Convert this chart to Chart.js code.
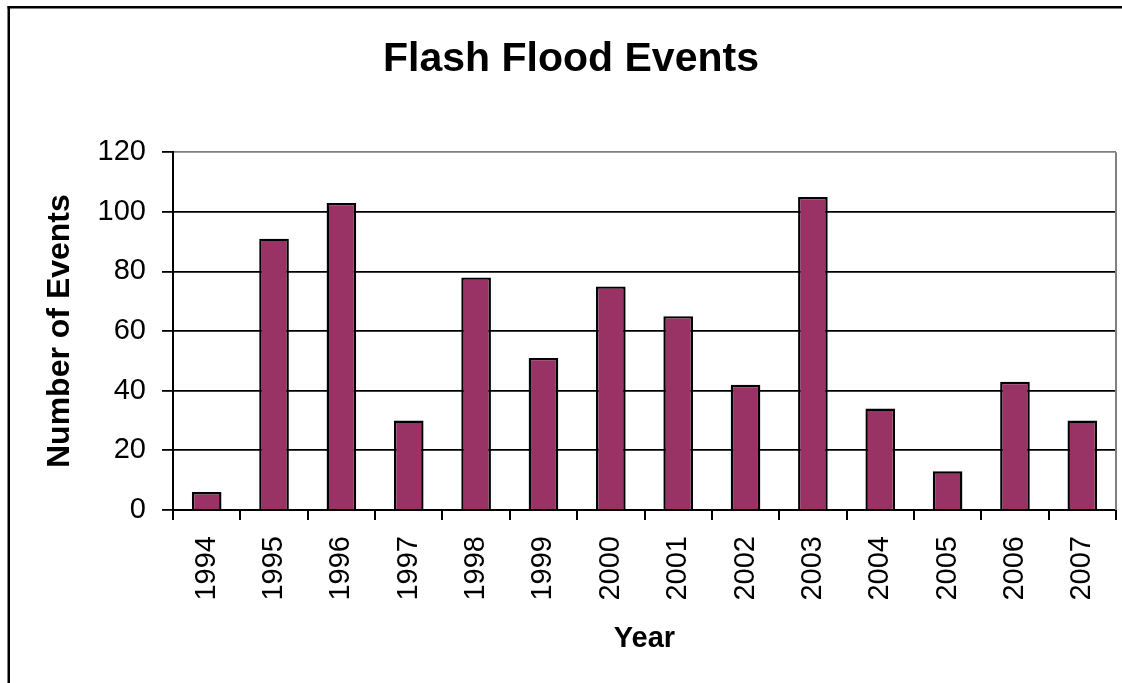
<!DOCTYPE html>
<html>
<head>
<meta charset="utf-8">
<title>Flash Flood Events</title>
<script src="https://cdn.jsdelivr.net/npm/chart.js@4.4.1/dist/chart.umd.min.js"></script>
<style>
  html, body { margin: 0; padding: 0; background: #ffffff; }
  #wrap { width: 1122px; height: 683px; position: relative; }
</style>
</head>
<body>
<div id="wrap"><canvas id="chart" width="1122" height="683"></canvas></div>
<script>
// Yearly counts of flash flood events
const years = ['1994', '1995', '1996', '1997', '1998', '1999', '2000',
               '2001', '2002', '2003', '2004', '2005', '2006', '2007'];
const events = [6, 91, 103, 30, 78, 51, 75, 65, 42, 105, 34, 13, 43, 30];
const yTickValues = [0, 20, 40, 60, 80, 100, 120];

const FONT = "'Liberation Sans', Arial, Helvetica, sans-serif";

// White page with the black outer frame, plus the grey right edge of the plot box
const framePlugin = {
  id: 'frame',
  beforeDraw(chart) {
    const ctx = chart.ctx;
    ctx.save();
    ctx.fillStyle = '#ffffff';
    ctx.fillRect(0, 0, chart.width, chart.height);
    ctx.fillStyle = '#000000';
    ctx.fillRect(7.5, 6, chart.width, 2.5);
    ctx.fillRect(7.5, 6, 2.5, chart.height);
    ctx.restore();
  },
  afterDraw(chart) {
    const a = chart.chartArea;
    const ctx = chart.ctx;
    ctx.save();
    ctx.strokeStyle = '#808080';
    ctx.lineWidth = 2;
    ctx.beginPath();
    ctx.moveTo(a.right, a.top);
    ctx.lineTo(a.right, a.bottom);
    ctx.stroke();
    ctx.restore();
  }
};

new Chart(document.getElementById('chart'), {
  type: 'bar',
  data: {
    labels: years,
    datasets: [{
      data: events,
      backgroundColor: '#993366',
      borderColor: '#000000',
      borderWidth: 2.4,
      borderSkipped: 'bottom',
      barPercentage: 0.44,
      categoryPercentage: 1.0
    }]
  },
  options: {
    responsive: false,
    devicePixelRatio: 1,
    animation: false,
    events: [],
    layout: { padding: { left: 26, right: 6, top: 0, bottom: 0 } },
    plugins: {
      legend: { display: false },
      tooltip: { enabled: false },
      title: {
        display: true,
        text: 'Flash Flood Events',
        color: '#000000',
        font: { family: FONT, size: 41, weight: 'bold', lineHeight: 1.2 },
        padding: { top: 35, bottom: 68 }
      }
    },
    scales: {
      x: {
        offset: true,
        afterFit(scale) {
          scale.height = 173;
          scale.paddingLeft = 0;
          scale.paddingRight = 0;
        },
        grid: {
          display: true,
          offset: true,
          drawOnChartArea: false,
          drawTicks: true,
          tickLength: 10,
          color: '#000000',
          tickColor: '#000000',
          lineWidth: 2
        },
        border: { display: true, color: '#000000', width: 2 },
        ticks: {
          minRotation: 90,
          maxRotation: 90,
          autoSkip: false,
          padding: 16,
          color: '#000000',
          font: { family: FONT, size: 29 }
        },
        title: {
          display: true,
          text: 'Year',
          color: '#000000',
          font: { family: FONT, size: 29, weight: 'bold', lineHeight: 1.2 },
          padding: { top: 0, bottom: 27 }
        }
      },
      y: {
        min: 0,
        max: 120,
        afterFit(scale) {
          scale.width = 147;
          scale.paddingTop = 0;
          scale.paddingBottom = 0;
        },
        afterBuildTicks(scale) { scale.ticks = yTickValues.map(v => ({ value: v })); },
        grid: {
          display: true,
          drawTicks: true,
          tickLength: 11,
          color: ctx => (ctx.tick && ctx.tick.value === 120) ? '#808080' : '#000000',
          tickColor: '#000000',
          lineWidth: 1.8
        },
        border: { display: true, color: '#000000', width: 2 },
        ticks: {
          padding: 16,
          color: '#000000',
          font: { family: FONT, size: 29 }
        },
        title: {
          display: true,
          text: 'Number of Events',
          color: '#000000',
          font: { family: FONT, size: 32, weight: 'bold', lineHeight: 1.2 },
          padding: { top: 15, bottom: 0 }
        }
      }
    }
  },
  plugins: [framePlugin]
});
</script>
</body>
</html>
